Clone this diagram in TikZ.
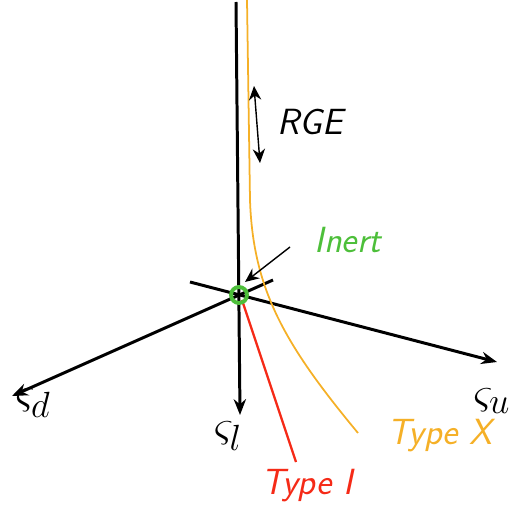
\documentclass[tikz,border=0pt]{standalone}
\usepackage{amsmath}
\usepackage{amssymb}
\usepackage{tikz}
\usetikzlibrary{positioning, arrows.meta, calc}
\definecolor{typex}{HTML}{F5B027}
\definecolor{typei}{HTML}{F52A17}
\definecolor{inert}{HTML}{4DBF3A}
\tikzset{
  axis/.style={line width=1.7pt, -{Stealth[length=9pt,width=7pt]}},
  hand/.style={font=\huge\sffamily\itshape},
  sym/.style={font=\Huge},
  thinarrow/.style={line width=0.8pt, -{Stealth[length=8pt,width=7pt]}}
}
\begin{document}
\begin{tikzpicture}[x=0.02cm, y=-0.02cm]
    \useasboundingbox (0,0) rectangle (517,510);

    \coordinate (O) at (239,295);
    \coordinate (ltop) at (236,2);
    \coordinate (ltip) at (240,415);
    \coordinate (dtip) at (12,396);
    \coordinate (dback) at (273,280);
    \coordinate (utip) at (497,362);
    \coordinate (uback) at (190,282);

    % Ejes
    \draw [axis] (ltop) -- (ltip);
    \draw [axis] (dback) -- (dtip);
    \draw [axis] (uback) -- (utip);

    \node (sd) [sym] at (33,403) {$\varsigma_d$};
    \node (sl) [sym] at (228,436) {$\varsigma_l$};
    \node (su) [sym] at (492,401) {$\varsigma_u$};

    % Trayectorias
    \coordinate (xtop) at (247,0);
    \coordinate (xend) at (358,433);
    \draw [typex, line width=1pt] (xtop) -- (250,200) .. controls (253,290) and (285,345) .. (xend);
    \node (typex) [hand, text=typex] at (440,436) {Type X};

    \coordinate (iend) at (296,462);
    \draw [typei, line width=1.3pt] (242,300) -- (iend);
    \node (typei) [hand, text=typei] at (307,486) {Type I};

    % Punto inerte
    \draw [inert, line width=2.2pt] (O) circle (8);
    \node (inertlbl) [hand, text=inert] at (348,240) {Inert};
    \draw [thinarrow] (290,247) -- (245,282);

    % Flujo RG
    \coordinate (rgtop) at (254,86);
    \coordinate (rgbot) at (260,163);
    \draw [thinarrow, {Stealth[length=8pt,width=7pt]}-{Stealth[length=8pt,width=7pt]}] (rgtop) -- (rgbot);
    \node (rge) [hand] at (310,122) {RGE};

\end{tikzpicture}
\end{document}
